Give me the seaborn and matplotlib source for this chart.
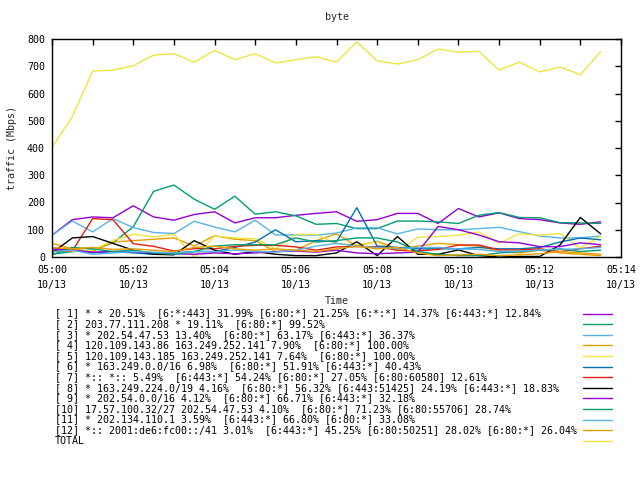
import numpy as np
import pandas as pd
import matplotlib
matplotlib.use("Agg")
import matplotlib.pyplot as plt
import matplotlib.dates as mdates
from matplotlib.lines import Line2D
import seaborn as sns

# ---------------- data ----------------
start = pd.Timestamp("2015-10-13 05:00:00")
n_points = 28
times = [start + pd.Timedelta(seconds=30 * i) for i in range(n_points)]

labels = [
    "[ 1] * * 20.51%  [6:*:443] 31.99% [6:80:*] 21.25% [6:*:*] 14.37% [6:443:*] 12.84%",
    "[ 2] 203.77.111.208 * 19.11%  [6:80:*] 99.52%",
    "[ 3] * 202.54.47.53 13.40%  [6:80:*] 63.17% [6:443:*] 36.37%",
    "[ 4] 120.109.143.86 163.249.252.141 7.90%  [6:80:*] 100.00%",
    "[ 5] 120.109.143.185 163.249.252.141 7.64%  [6:80:*] 100.00%",
    "[ 6] * 163.249.0.0/16 6.98%  [6:80:*] 51.91% [6:443:*] 40.43%",
    "[ 7] *:: *:: 5.49%  [6:443:*] 54.24% [6:80:*] 27.05% [6:80:60580] 12.61%",
    "[ 8] * 163.249.224.0/19 4.16%  [6:80:*] 56.32% [6:443:51425] 24.19% [6:443:*] 18.83%",
    "[ 9] * 202.54.0.0/16 4.12%  [6:80:*] 66.71% [6:443:*] 32.18%",
    "[10] 17.57.100.32/27 202.54.47.53 4.10%  [6:80:*] 71.23% [6:80:55706] 28.74%",
    "[11] * 202.134.110.1 3.59%  [6:443:*] 66.80% [6:80:*] 33.08%",
    "[12] *:: 2001:de6:fc00::/41 3.01%  [6:443:*] 45.25% [6:80:50251] 28.02% [6:80:*] 26.04%",
    "TOTAL",
]

s1 = [80, 137, 147, 144, 188, 147, 135, 156, 166, 125, 144, 144, 153, 160, 166, 131, 137, 160, 160, 123, 178, 147, 162, 141, 137, 125, 120, 129]
s2 = [10, 20, 26, 52, 111, 241, 264, 212, 175, 223, 157, 166, 151, 120, 123, 104, 104, 132, 132, 129, 123, 153, 163, 145, 144, 126, 125, 123]
s3 = [80, 132, 92, 141, 108, 90, 86, 131, 110, 92, 135, 81, 81, 80, 88, 107, 107, 85, 103, 100, 100, 104, 109, 93, 77, 70, 70, 77]
s4 = [50, 30, 20, 55, 60, 65, 70, 40, 78, 65, 60, 20, 25, 60, 85, 40, 58, 30, 40, 50, 45, 40, 20, 15, 25, 15, 10, 5]
s5 = [30, 20, 25, 61, 83, 74, 83, 0, 77, 70, 67, 30, 83, 83, 49, 45, 55, 20, 72, 75, 80, 92, 51, 85, 80, 86, 33, 77]
s6 = [20, 25, 15, 20, 15, 10, 15, 20, 20, 35, 55, 100, 56, 60, 56, 181, 40, 35, 30, 30, 30, 35, 30, 30, 35, 55, 70, 63]
s7 = [25, 22, 141, 137, 49, 39, 22, 31, 30, 39, 43, 43, 37, 25, 37, 38, 38, 25, 22, 28, 44, 44, 26, 26, 30, 20, 30, 40]
s8 = [15, 70, 75, 50, 25, 10, 8, 60, 25, 10, 20, 10, 5, 5, 15, 56, 5, 75, 10, 10, 26, 5, 0, 2, 2, 44, 145, 85]
s9 = [30, 25, 18, 20, 20, 15, 12, 10, 15, 12, 15, 20, 22, 18, 25, 15, 12, 15, 18, 112, 100, 81, 56, 52, 38, 38, 52, 45]
s10 = [8, 35, 30, 20, 25, 15, 10, 20, 40, 45, 45, 45, 70, 55, 60, 70, 70, 55, 20, 10, 5, 5, 15, 20, 25, 30, 20, 25]
s11 = [20, 25, 10, 15, 20, 18, 15, 20, 20, 25, 20, 18, 25, 40, 50, 40, 35, 30, 35, 35, 30, 28, 20, 22, 25, 28, 30, 35]
s12 = [35, 30, 35, 28, 30, 25, 20, 35, 40, 30, 25, 30, 25, 20, 30, 40, 30, 35, 15, 5, 8, 10, 5, 8, 12, 20, 15, 10]
total = [402, 515, 682, 686, 702, 741, 746, 715, 758, 724, 746, 712, 724, 735, 715, 789, 720, 708, 724, 763, 752, 755, 686, 715, 679, 697, 669, 753]

series_values = [s1, s2, s3, s4, s5, s6, s7, s8, s9, s10, s11, s12, total]
colors = ["#9400D3", "#009E73", "#56B4E9", "#E69F00", "#F0E442", "#0072B2",
          "#E51E10", "#000000", "#9400D3", "#009E73", "#56B4E9", "#E69F00", "#F0E442"]

rows = []
for lab, vals in zip(labels, series_values):
    for t, v in zip(times, vals):
        rows.append({"time": t, "value": v, "series": lab})
df = pd.DataFrame(rows)

# ---------------- plot ----------------
sns.set_style("white")
plt.rcParams["font.family"] = ["DejaVu Sans Mono"]
plt.rcParams["font.size"] = 7.2

W, H = 640, 480
fig = plt.figure(figsize=(6.4, 4.8), dpi=100)
L, R, T, B = 52, 621, 39, 257
ax = fig.add_axes([L / W, 1 - B / H, (R - L) / W, (B - T) / H])

sns.lineplot(data=df, x="time", y="value", hue="series", hue_order=labels,
             palette=colors, linewidth=1.0, ax=ax, legend=False,
             estimator=None, sort=False)

ax.set_xlim(start, start + pd.Timedelta(minutes=14))
ax.set_ylim(0, 800)
ax.set_yticks(np.arange(0, 801, 100))

ax.xaxis.set_major_locator(mdates.MinuteLocator(interval=2))
ax.xaxis.set_minor_locator(mdates.MinuteLocator(interval=1))
ax.xaxis.set_major_formatter(mdates.DateFormatter("%H:%M\n%m/%d"))

for sp in ax.spines.values():
    sp.set_visible(True)
    sp.set_color("black")
    sp.set_linewidth(1.0)

ax.tick_params(axis="both", which="both", direction="in", top=True, right=True,
               length=4, width=1.0, colors="black", labelsize=7.2)
ax.tick_params(axis="x", which="minor", length=4)
ax.tick_params(axis="x", which="major", pad=6)
ax.tick_params(axis="y", which="major", pad=5)
for lbl in ax.get_xticklabels():
    lbl.set_linespacing(1.6)

ax.set_title("byte", fontsize=7.2, pad=14)
ax.set_xlabel("Time", fontsize=7.2)
ax.set_ylabel("traffic (Mbps)", fontsize=7.2)
ax.xaxis.set_label_coords(0.5, (B - 296) / (B - T))
ax.yaxis.set_label_coords((17 - L) / (R - L), 0.5)
ax.grid(False)

# ---------------- legend (gnuplot style, below plot) ----------------
y0 = 313.5
dy = 10.6
for i, (lab, col) in enumerate(zip(labels, colors)):
    y = y0 + i * dy
    fig.text(55 / W, 1 - y / H, lab, ha="left", va="center", fontsize=7.2,
             color="black")
    fig.add_artist(Line2D([583 / W, 612 / W], [1 - y / H, 1 - y / H],
                          color=col, linewidth=1.0, transform=fig.transFigure))

fig.savefig("out.png", dpi=100)
